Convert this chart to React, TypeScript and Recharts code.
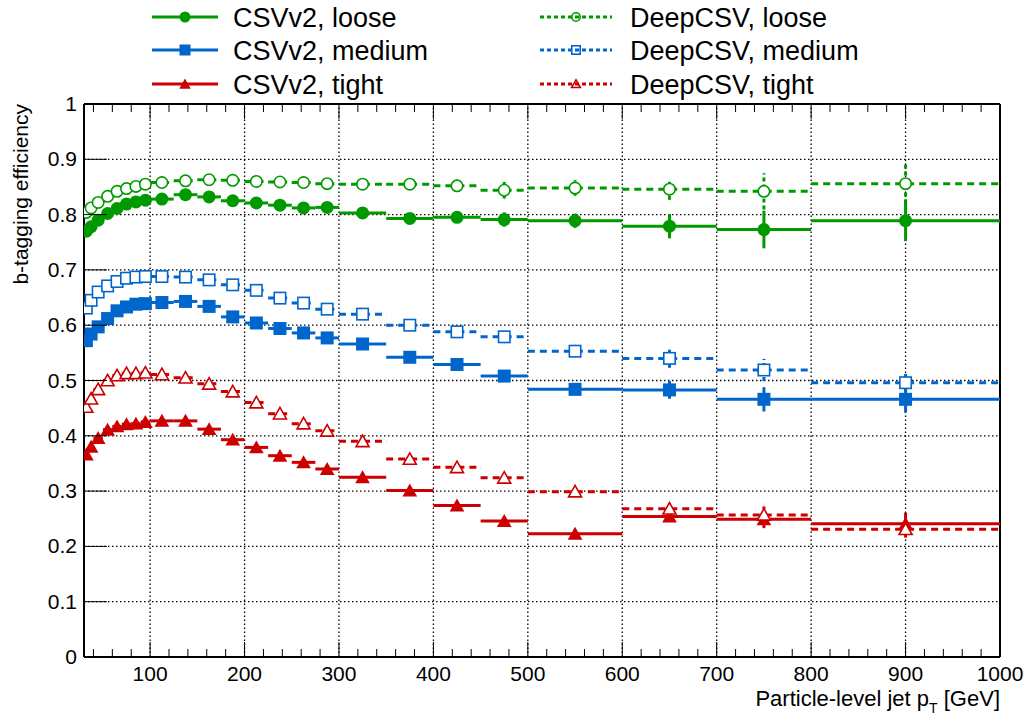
import React from "react";
import { ComposedChart, Scatter, XAxis, YAxis, ErrorBar, ReferenceLine } from "recharts";

// pT binning (GeV)
const BIN_EDGES = [30, 35, 40, 50, 60, 70, 80, 90, 100, 125, 150, 175, 200, 225, 250, 275, 300, 350, 400, 450, 500, 600, 700, 800, 1000];

// efficiencies per bin
const CSV_LOOSE = [0.77, 0.778, 0.79, 0.802, 0.811, 0.819, 0.823, 0.826, 0.828, 0.836, 0.832, 0.825, 0.821, 0.817, 0.812, 0.813, 0.803, 0.793, 0.795, 0.791, 0.789, 0.779, 0.773, 0.789];
const CSV_LOOSE_ERR = [0.002, 0.002, 0.002, 0.002, 0.002, 0.002, 0.002, 0.002, 0.002, 0.002, 0.002, 0.002, 0.002, 0.003, 0.003, 0.003, 0.004, 0.005, 0.01, 0.013, 0.013, 0.022, 0.034, 0.037];

const DEEP_LOOSE = [0.804, 0.812, 0.822, 0.833, 0.842, 0.847, 0.851, 0.855, 0.858, 0.861, 0.863, 0.862, 0.86, 0.859, 0.858, 0.856, 0.855, 0.855, 0.852, 0.844, 0.848, 0.846, 0.842, 0.856];
const DEEP_LOOSE_ERR = [0.002, 0.002, 0.002, 0.002, 0.002, 0.002, 0.002, 0.002, 0.002, 0.002, 0.002, 0.002, 0.002, 0.003, 0.003, 0.003, 0.004, 0.005, 0.009, 0.015, 0.014, 0.019, 0.033, 0.036];

const CSV_MEDIUM = [0.572, 0.584, 0.597, 0.612, 0.626, 0.633, 0.638, 0.639, 0.641, 0.643, 0.634, 0.615, 0.604, 0.594, 0.586, 0.577, 0.566, 0.542, 0.529, 0.508, 0.484, 0.483, 0.466, 0.466];
const CSV_MEDIUM_ERR = [0.002, 0.002, 0.002, 0.002, 0.002, 0.002, 0.002, 0.002, 0.002, 0.002, 0.002, 0.002, 0.002, 0.003, 0.003, 0.003, 0.004, 0.004, 0.006, 0.009, 0.01, 0.016, 0.022, 0.024];

const DEEP_MEDIUM = [0.631, 0.645, 0.66, 0.671, 0.679, 0.685, 0.687, 0.688, 0.688, 0.687, 0.682, 0.673, 0.663, 0.649, 0.64, 0.629, 0.62, 0.6, 0.588, 0.579, 0.553, 0.54, 0.519, 0.496];
const DEEP_MEDIUM_ERR = [0.002, 0.002, 0.002, 0.002, 0.002, 0.002, 0.002, 0.002, 0.002, 0.002, 0.002, 0.002, 0.002, 0.003, 0.003, 0.003, 0.004, 0.004, 0.006, 0.01, 0.01, 0.017, 0.02, 0.017];

const CSV_TIGHT = [0.366, 0.38, 0.396, 0.411, 0.417, 0.421, 0.422, 0.425, 0.427, 0.427, 0.412, 0.393, 0.379, 0.364, 0.352, 0.34, 0.325, 0.301, 0.274, 0.246, 0.223, 0.254, 0.249, 0.241];
const CSV_TIGHT_ERR = [0.002, 0.002, 0.002, 0.002, 0.002, 0.002, 0.002, 0.002, 0.002, 0.002, 0.002, 0.002, 0.002, 0.002, 0.002, 0.003, 0.003, 0.003, 0.004, 0.005, 0.006, 0.01, 0.016, 0.02];

const DEEP_TIGHT = [0.452, 0.467, 0.484, 0.5, 0.509, 0.513, 0.513, 0.514, 0.511, 0.505, 0.494, 0.48, 0.46, 0.44, 0.422, 0.409, 0.39, 0.358, 0.343, 0.324, 0.299, 0.268, 0.257, 0.231];
const DEEP_TIGHT_ERR = [0.002, 0.002, 0.002, 0.002, 0.002, 0.002, 0.002, 0.002, 0.002, 0.002, 0.002, 0.002, 0.002, 0.002, 0.002, 0.003, 0.003, 0.003, 0.004, 0.005, 0.006, 0.01, 0.015, 0.015];

const X_TICKS = [40, 60, 80, 100, 120, 140, 160, 180, 200, 220, 240, 260, 280, 300, 320, 340, 360, 380, 400, 420, 440, 460, 480, 500, 520, 540, 560, 580, 600, 620, 640, 660, 680, 700, 720, 740, 760, 780, 800, 820, 840, 860, 880, 900, 920, 940, 960, 980, 1000];
const X_GRID = [100, 200, 300, 400, 500, 600, 700, 800, 900];
const Y_TICKS = [0, 0.1, 0.2, 0.3, 0.4, 0.5, 0.6, 0.7, 0.8, 0.9, 1];
const Y_GRID = [0.1, 0.2, 0.3, 0.4, 0.5, 0.6, 0.7, 0.8, 0.9];

const GREEN = "#009a00";
const BLUE = "#0066cc";
const RED = "#cc0000";
const FONT = "'Liberation Sans', Arial, Helvetica, sans-serif";

const W = 1029;
const H = 719;
const PLOT_TOP = 104;

type Kind = "circle" | "square" | "triangle";

function buildPoints(values: number[], errors: number[]) {
  return values.map((y, i) => {
    const lo = BIN_EDGES[i];
    const hi = BIN_EDGES[i + 1];
    const x = (lo + hi) / 2;
    return { x, y, xErr: [x - lo, hi - x], yErr: errors[i] };
  });
}

const SERIES = [
  { name: "CSVv2, loose", data: buildPoints(CSV_LOOSE, CSV_LOOSE_ERR), color: GREEN, kind: "circle" as Kind, filled: true },
  { name: "CSVv2, medium", data: buildPoints(CSV_MEDIUM, CSV_MEDIUM_ERR), color: BLUE, kind: "square" as Kind, filled: true },
  { name: "CSVv2, tight", data: buildPoints(CSV_TIGHT, CSV_TIGHT_ERR), color: RED, kind: "triangle" as Kind, filled: true },
  { name: "DeepCSV, loose", data: buildPoints(DEEP_LOOSE, DEEP_LOOSE_ERR), color: GREEN, kind: "circle" as Kind, filled: false },
  { name: "DeepCSV, medium", data: buildPoints(DEEP_MEDIUM, DEEP_MEDIUM_ERR), color: BLUE, kind: "square" as Kind, filled: false },
  { name: "DeepCSV, tight", data: buildPoints(DEEP_TIGHT, DEEP_TIGHT_ERR), color: RED, kind: "triangle" as Kind, filled: false },
];

function Marker({ cx, cy, kind, filled, color, size, hollow }: any) {
  const fill = filled ? color : hollow ? "none" : "#fff";
  const sw = filled ? 0 : 1.6;
  const h = size / 2;
  if (kind === "circle") {
    return <circle cx={cx} cy={cy} r={filled ? h : h - 0.8} fill={fill} stroke={color} strokeWidth={sw} />;
  }
  if (kind === "square") {
    const s = filled ? size : size - 1.6;
    return <rect x={cx - s / 2} y={cy - s / 2} width={s} height={s} fill={fill} stroke={color} strokeWidth={sw} />;
  }
  const t = filled ? h : h - 0.8;
  const pts = `${cx},${cy - t} ${cx - t * 1.05},${cy + t * 0.85} ${cx + t * 1.05},${cy + t * 0.85}`;
  return <polygon points={pts} fill={fill} stroke={color} strokeWidth={sw} strokeLinejoin="miter" />;
}

function XTick({ x, y, payload }: any) {
  const v = payload.value;
  const major = v % 100 === 0;
  const len = major ? 15 : 8;
  return (
    <g>
      <line x1={x} x2={x} y1={y} y2={y - len} stroke="#000" strokeWidth={1} />
      <line x1={x} x2={x} y1={PLOT_TOP} y2={PLOT_TOP + len} stroke="#000" strokeWidth={1} />
      {major && (
        <text x={x} y={y + 24} textAnchor="middle" fontSize={21} fontFamily={FONT} fill="#000">
          {v}
        </text>
      )}
    </g>
  );
}

function YTick({ x, y, payload }: any) {
  const v = payload.value;
  const label = v === 0 ? "0" : v === 1 ? "1" : v.toFixed(1);
  return (
    <g>
      <line x1={x} x2={x + 23} y1={y} y2={y} stroke="#000" strokeWidth={1} />
      <text x={x - 7} y={y + 7} textAnchor="end" fontSize={21} fontFamily={FONT} fill="#000">
        {label}
      </text>
    </g>
  );
}

function LegendRow({ s, x0, x1, y, textX }: any) {
  const mid = (x0 + x1) / 2;
  return (
    <g>
      <line x1={x0} x2={x1} y1={y} y2={y} stroke={s.color} strokeWidth={3} strokeDasharray={s.filled ? undefined : "4 3"} />
      <Marker cx={mid} cy={y} kind={s.kind} filled={s.filled} color={s.color} size={s.filled ? 11 : 10} hollow />
      <text x={textX} y={y + 10} fontSize={27} fontFamily={FONT} fill="#000">
        {s.name}
      </text>
    </g>
  );
}

const LEGEND_ROWS_Y = [17, 50, 84];

export default function App() {
  return (
    <div style={{ position: "absolute", left: 0, top: 0, width: W, height: H, background: "#fff" }}>
      <ComposedChart width={W} height={H} margin={{ top: PLOT_TOP, right: 29, bottom: 0, left: 0 }}>
        <XAxis
          type="number"
          dataKey="x"
          domain={[30, 1000]}
          allowDataOverflow
          ticks={X_TICKS}
          interval={0}
          height={62}
          tickSize={0}
          tickMargin={0}
          tickLine={false}
          axisLine={{ stroke: "#000", strokeWidth: 2 }}
          tick={<XTick />}
        />
        <YAxis
          type="number"
          dataKey="y"
          domain={[0, 1]}
          allowDataOverflow
          ticks={Y_TICKS}
          interval={0}
          width={84}
          tickSize={0}
          tickMargin={0}
          tickLine={false}
          axisLine={{ stroke: "#000", strokeWidth: 2 }}
          tick={<YTick />}
        />
        {X_GRID.map((v) => (
          <ReferenceLine key={`gx${v}`} x={v} stroke="#000" strokeWidth={1.3} strokeDasharray="1.5 2.5" />
        ))}
        {Y_GRID.map((v) => (
          <ReferenceLine key={`gy${v}`} y={v} stroke="#000" strokeWidth={1.3} strokeDasharray="1.5 2.5" />
        ))}
        <ReferenceLine y={1} stroke="#000" strokeWidth={2} />
        <ReferenceLine x={1000} stroke="#000" strokeWidth={2} />
        {SERIES.map((s) => (
          <Scatter
            key={s.name}
            name={s.name}
            data={s.data}
            fill={s.color}
            isAnimationActive={false}
            shape={(p: any) => (
              <Marker cx={p.cx} cy={p.cy} kind={s.kind} filled={s.filled} color={s.color} size={s.kind === "triangle" ? 14 : 13} />
            )}
          >
            <ErrorBar
              dataKey="xErr"
              direction="x"
              width={0}
              stroke={s.color}
              strokeWidth={3}
              strokeDasharray={s.filled ? undefined : "7 5"}
            />
            <ErrorBar
              dataKey="yErr"
              direction="y"
              width={0}
              stroke={s.color}
              strokeWidth={3}
              strokeDasharray={s.filled ? undefined : "4 3"}
            />
          </Scatter>
        ))}
      </ComposedChart>
      <svg width={W} height={H} style={{ position: "absolute", left: 0, top: 0, pointerEvents: "none" }}>
        {SERIES.slice(0, 3).map((s, i) => (
          <LegendRow key={s.name} s={s} x0={152} x1={218} y={LEGEND_ROWS_Y[i]} textX={233} />
        ))}
        {SERIES.slice(3).map((s, i) => (
          <LegendRow key={s.name} s={s} x0={540} x1={612} y={LEGEND_ROWS_Y[i]} textX={630} />
        ))}
        <text x={1000} y={706} textAnchor="end" fontSize={22} fontFamily={FONT} fill="#000">
          Particle-level jet p
          <tspan fontSize={14} dy={7}>T</tspan>
          <tspan dy={-7}> [GeV]</tspan>
        </text>
        <text transform="rotate(-90)" x={-104} y={28} textAnchor="end" fontSize={21} fontFamily={FONT} fill="#000">
          b-tagging efficiency
        </text>
      </svg>
    </div>
  );
}
